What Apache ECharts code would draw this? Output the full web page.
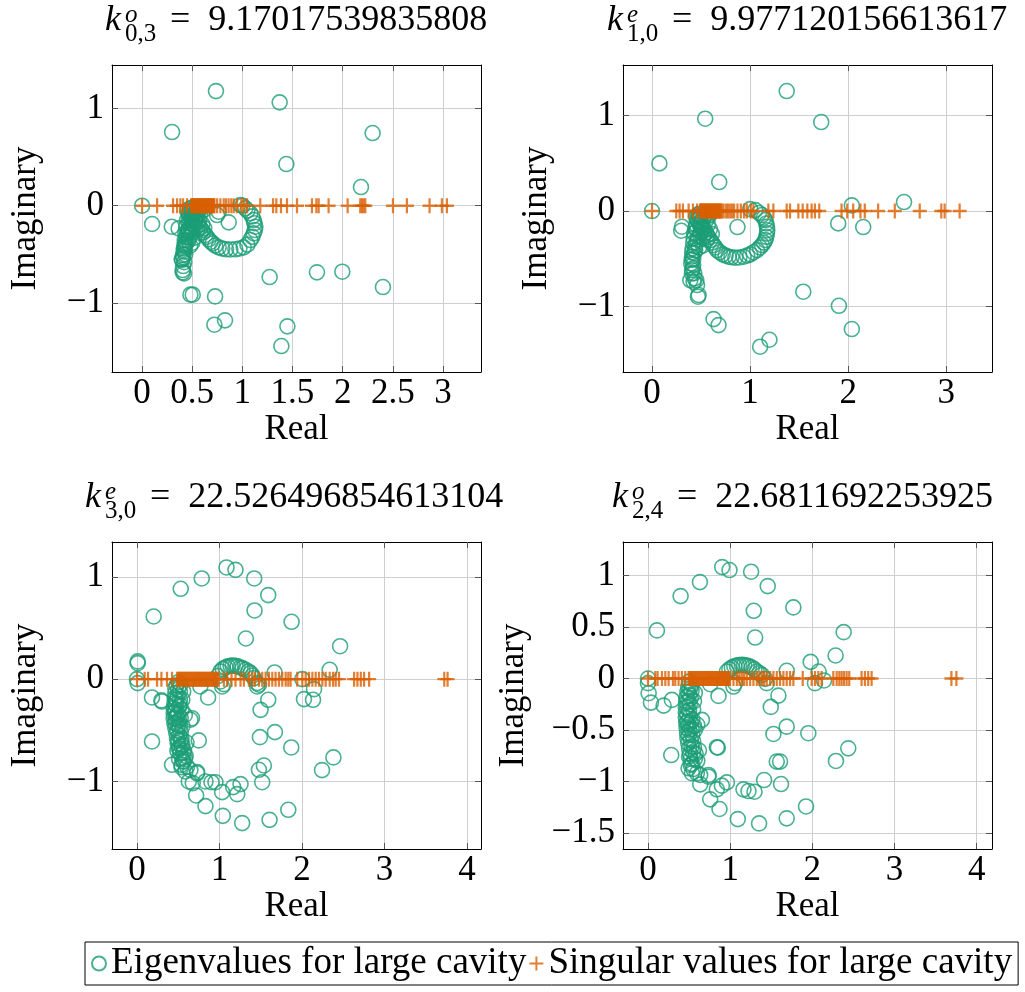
<!DOCTYPE html>
<html><head><meta charset="utf-8">
<script src="https://cdn.jsdelivr.net/npm/echarts@6/dist/echarts.min.js"></script>
<style>html,body{margin:0;padding:0;background:#fff}#c{width:1025px;height:992px}</style>
</head><body><div id="c"></div>
<script>
// ---------- data ----------
const seriesNames = ['Eigenvalues for large cavity', 'Singular values for large cavity'];

const titles1 = {sup: 'o', sub: '0,3', value: '9.17017539835808'};
const titles2 = {sup: 'e', sub: '1,0', value: '9.977120156613617'};
const titles3 = {sup: 'e', sub: '3,0', value: '22.526496854613104'};
const titles4 = {sup: 'o', sub: '2,4', value: '22.6811692253925'};

const xTicks1 = [0, 0.5, 1, 1.5, 2, 2.5, 3];
const yTicks1 = [-1, 0, 1];
const xTicks2 = [0, 1, 2, 3];
const yTicks2 = [-1, 0, 1];
const xTicks3 = [0, 1, 2, 3, 4];
const yTicks3 = [-1, 0, 1];
const xTicks4 = [0, 1, 2, 3, 4];
const yTicks4 = [-1.5, -1, -0.5, 0, 0.5, 1];

const eig1 = [
 [0.737,1.178],[1.372,1.062],[0.299,0.757],[2.299,0.747],[1.439,0.428],[2.183,0.192],[0,0],[0.1,-0.188],
 [0.296,-0.216],[0.365,-0.233],[0.864,-0.171],[0.748,-0.096],[0.764,-0.062],[1.272,-0.733],[1.744,-0.685],[1.997,-0.678],
 [2.402,-0.836],[0.482,-0.914],[0.505,-0.914],[0.728,-0.932],[0.721,-1.223],[0.827,-1.178],[1.449,-1.24],[1.389,-1.442],
 [0.98,0.007],[1.0,0.0],[1.03,-0.027],[1.08,-0.078],[1.113,-0.147],[1.13,-0.216],[1.113,-0.284],[1.08,-0.353],
 [1.013,-0.428],[0.93,-0.448],[0.837,-0.448],[0.764,-0.428],[0.704,-0.387],[0.664,-0.346],[0.631,-0.301],[0.598,-0.25],
 [0.565,-0.198],[0.531,-0.147],[1.05,-0.05],[1.1,-0.11],[1.12,-0.18],[1.125,-0.25],[1.1,-0.32],[1.05,-0.4],
 [0.97,-0.44],[0.88,-0.45],[0.8,-0.44],[0.73,-0.41],[0.685,-0.37],[0.645,-0.32],[0.61,-0.275],[0.58,-0.225],
 [0.55,-0.17],[0.52,-0.12],[0.51,-0.08],[0.5,-0.05],
 [0.475,-0.03],[0.465,-0.078],[0.449,-0.147],[0.439,-0.216],[0.432,-0.284],[0.425,-0.353],[0.422,-0.404],[0.415,-0.455],
 [0.408,-0.507],[0.399,-0.558],[0.395,-0.548],[0.405,-0.661],[0.419,-0.695],[0.405,-0.685],[0.42,-0.44],[0.43,-0.39],
 [0.44,-0.32],[0.455,-0.25],[0.47,-0.18],[0.485,-0.11],[0.49,-0.06],[0.5,-0.02],
 [0.52,-0.03],[0.54,-0.06],[0.5,-0.1],[0.53,-0.1],[0.47,-0.13],[0.5,-0.16],[0.52,-0.2],[0.48,-0.22],
 [0.46,-0.27],[0.5,-0.27],[0.55,-0.24],[0.48,-0.3],[0.46,-0.36],[0.56,-0.05],[0.6,-0.02],[0.58,-0.08],[0.62,-0.04],
 [0.45,-0.05],[0.47,-0.08],[0.49,-0.14],[0.51,-0.19],[0.53,-0.23],[0.5,-0.24],[0.47,-0.25],[0.45,-0.29],
 [0.47,-0.33],[0.44,-0.38],[0.43,-0.42],[0.42,-0.47],[0.43,-0.5],[0.41,-0.53],[0.42,-0.58],[0.41,-0.62],
 [0.55,-0.12],[0.57,-0.15],[0.6,-0.19],[0.62,-0.23],[0.58,-0.28],[0.52,-0.33],[0.5,-0.38],[0.48,-0.41]
];
const sv1 = [
 0, 0.15, 0.309, 0.349, 0.382, 0.409, 0.449,
 0.49, 0.497, 0.505, 0.512, 0.52, 0.527, 0.535, 0.542, 0.55, 0.557, 0.565, 0.572, 0.58, 0.587, 0.595, 0.603,
 0.61, 0.618, 0.625, 0.633, 0.64, 0.648, 0.655, 0.663, 0.67, 0.678, 0.686, 0.693, 0.70, 0.708, 0.715, 0.722,
 0.748, 0.781, 0.814, 0.837, 0.863, 0.89, 0.914, 0.947, 0.99, 1.013, 1.047, 1.179, 1.306, 1.339, 1.385, 1.445,
 1.545, 1.694, 1.738, 1.761, 1.86, 2.05, 2.176, 2.193, 2.209, 2.226, 2.502, 2.641, 2.867, 2.99, 3.04
];

const eig2 = [
 [1.373,1.254],[0.542,0.965],[1.725,0.93],[0.075,0.498],[0.685,0.303],[0,0],[2.037,0.059],[2.569,0.094],
 [1.898,-0.129],[2.153,-0.167],[0.305,-0.164],[0.298,-0.206],[0.871,-0.167],[1.542,-0.843],[1.905,-0.99],[2.037,-1.233],
 [0.627,-1.129],[0.678,-1.192],[1.102,-1.418],[1.197,-1.345],[0.468,-0.895],[0.475,-0.878],[0.451,-0.721],[0.424,-0.739],
 [0.407,-0.652],[0.417,-0.599],
 [1.0,0.02],[1.053,0.01],[1.121,-0.042],[1.155,-0.094],[1.172,-0.164],[1.172,-0.233],[1.155,-0.303],[1.121,-0.355],
 [1.07,-0.408],[1.002,-0.453],[0.934,-0.477],[0.849,-0.488],[0.781,-0.477],[0.72,-0.453],[0.663,-0.408],[0.628,-0.355],
 [0.594,-0.303],[0.561,-0.251],[0.536,-0.199],[1.09,-0.02],[1.14,-0.07],[1.165,-0.13],[1.175,-0.2],[1.165,-0.27],
 [1.14,-0.33],[1.1,-0.38],[1.035,-0.43],[0.97,-0.465],[0.89,-0.485],[0.81,-0.483],[0.75,-0.465],[0.69,-0.43],
 [0.645,-0.38],[0.61,-0.33],[0.575,-0.275],[0.55,-0.225],[0.52,-0.17],[0.5,-0.12],[0.49,-0.07],
 [0.459,-0.094],[0.441,-0.181],[0.424,-0.285],[0.414,-0.39],[0.408,-0.477],[0.4,-0.547],[0.408,-0.617],[0.39,-0.721],
 [0.434,-0.703],[0.459,-0.773],[0.47,-0.04],[0.45,-0.14],[0.43,-0.23],[0.42,-0.33],[0.41,-0.43],[0.405,-0.51],
 [0.42,-0.56],[0.43,-0.65],
 [0.48,-0.03],[0.5,-0.05],[0.52,-0.08],[0.48,-0.12],[0.5,-0.16],[0.46,-0.2],[0.5,-0.22],[0.47,-0.27],
 [0.45,-0.33],[0.52,-0.28],[0.55,-0.03],[0.58,-0.05],[0.6,-0.02],
 [0.45,-0.06],[0.47,-0.1],[0.49,-0.15],[0.51,-0.19],[0.53,-0.24],[0.49,-0.25],[0.46,-0.3],[0.44,-0.37],
 [0.43,-0.44],[0.42,-0.5],[0.44,-0.41],[0.55,-0.1],[0.57,-0.14],[0.59,-0.19],[0.61,-0.24],[0.56,-0.3],
 [0.52,-0.36],[0.48,-0.38]
];
const sv2 = [
 0, 0.247, 0.281, 0.315, 0.373, 0.417, 0.459,
 0.49, 0.497, 0.505, 0.512, 0.52, 0.527, 0.535, 0.542, 0.55, 0.557, 0.565, 0.572, 0.58, 0.587, 0.595, 0.603,
 0.61, 0.618, 0.625, 0.633, 0.64, 0.648, 0.655, 0.663, 0.67, 0.678, 0.686, 0.693, 0.70,
 0.712, 0.73, 0.756, 0.775, 0.797, 0.817, 0.837, 0.871, 0.905, 0.939, 0.966, 1.007, 1.034, 1.186, 1.237, 1.373,
 1.407, 1.492, 1.536, 1.583, 1.627, 1.661, 1.705, 1.932, 1.99, 2.051, 2.125, 2.169, 2.305, 2.475, 2.729, 2.949,
 2.983, 3.136
];

const eig3 = [
 [1.085,1.091],[1.194,1.068],[0.785,0.984],[1.421,0.984],[0.53,0.883],[1.591,0.821],[1.425,0.671],[0.202,0.612],
 [1.874,0.56],[1.32,0.397],[2.462,0.322],[0.008,0.173],[0.008,0.156],[2.336,0.091],[1.668,0.065],[0,0],[0.008,-0.039],
 [1.012,0.075],[1.073,0.114],[1.134,0.13],[1.194,0.13],[1.255,0.114],[1.316,0.091],[1.377,0.059],[1.417,0.01],
 [1.457,-0.039],[1.457,-0.072],[1.032,-0.072],[1.053,-0.049],[1.012,-0.023],[0.98,0.03],[1.04,0.1],[1.1,0.125],
 [1.16,0.132],[1.22,0.125],[1.28,0.105],[1.35,0.075],[1.4,0.035],[1.478,-0.055],
 [0.182,-0.179],[0.296,-0.208],[0.862,-0.179],[1.591,-0.202],[1.498,-0.3],[2.004,0],[2.024,-0.195],[2.134,-0.202],
 [2.146,-0.098],[0.648,-0.397],[0.182,-0.609],[0.749,-0.599],[1.49,-0.567],[1.672,-0.518],[1.87,-0.668],[2.381,-0.765],
 [2.243,-0.889],[0.425,-0.837],[1.478,-0.886],[1.538,-0.844],[1.518,-1.007],[0.83,-1.0],[0.903,-1.007],[0.951,-1.007],
 [1.032,-1.104],[1.166,-1.055],[1.255,-1.026],[1.215,-1.124],[0.717,-1.137],[0.83,-1.241],[1.04,-1.336],[1.275,-1.407],
 [1.607,-1.375],[1.834,-1.277],[0.303,-0.219],[0.667,-0.382],[0.768,-0.072],
 [0.538,-0.837],[0.587,-0.902],[0.628,-1.0],[0.676,-1.016],[0.729,-0.909],
 [0.465,-0.088],[0.465,-0.137],[0.457,-0.186],[0.453,-0.235],[0.445,-0.284],[0.445,-0.333],[0.445,-0.382],[0.453,-0.431],
 [0.465,-0.479],[0.477,-0.528],[0.485,-0.577],[0.493,-0.626],[0.505,-0.675],[0.526,-0.724],[0.546,-0.773],[0.566,-0.806],
 [0.607,-0.855],[0.647,-0.888],[0.728,-0.92],
 [0.53,-0.05],[0.52,-0.12],[0.52,-0.2],[0.51,-0.27],[0.5,-0.34],[0.51,-0.4],[0.52,-0.46],[0.53,-0.52],
 [0.54,-0.58],[0.55,-0.64],[0.57,-0.7],[0.59,-0.75],[0.5,-0.03],[0.48,-0.06],[0.49,-0.16],[0.47,-0.3],
 [0.48,-0.36],[0.49,-0.5],[0.5,-0.6],[0.52,-0.68],[0.56,-0.8],[0.6,-0.62],[0.58,-0.35],[0.47,-0.43],[0.54,-0.3],
 [0.5,-0.1],[0.48,-0.2],[0.47,-0.25],[0.46,-0.32],[0.47,-0.38],[0.5,-0.45],[0.51,-0.55],[0.53,-0.6],
 [0.54,-0.66],[0.56,-0.72],[0.58,-0.78],[0.53,-0.38],[0.55,-0.46],[0.49,-0.7],[0.51,-0.78],[0.54,-0.86],
 [0.55,-0.2],[0.56,-0.12],[0.52,-0.25]
];
const sv3 = [
 0, 0.093, 0.134, 0.243, 0.296, 0.364, 0.425, 0.486,
 0.50, 0.512, 0.525, 0.537, 0.55, 0.562, 0.575, 0.587, 0.60, 0.612, 0.625, 0.637, 0.65, 0.662, 0.675, 0.687,
 0.70, 0.712, 0.725, 0.737, 0.75, 0.762, 0.775, 0.787, 0.80, 0.812, 0.825, 0.837, 0.85, 0.862, 0.875, 0.887,
 0.90, 0.912, 0.925, 0.937, 0.95, 0.962, 0.975, 0.99,
 1.053, 1.093, 1.146, 1.194, 1.255, 1.296, 1.356, 1.397, 1.429, 1.478, 1.518, 1.559, 1.599, 1.64, 1.68, 1.721,
 1.761, 1.802, 1.834, 1.862, 1.943, 2.004, 2.045, 2.085, 2.126, 2.166, 2.206, 2.247, 2.287, 2.336, 2.377, 2.409,
 2.449, 2.632, 2.672, 2.713, 2.753, 2.814, 3.725, 3.765
];

const eig4 = [
 [0.903,1.084],[0.992,1.055],[1.255,1.039],[0.632,0.938],[1.457,0.899],[0.397,0.802],[1.769,0.692],[1.287,0.659],
 [0.109,0.468],[2.381,0.451],[1.304,0.399],[2.283,0.224],[1.98,0.162],[2.077,0.068],[2.142,-0.019],[2.032,-0.045],
 [1.688,0.075],
 [0.96,0.068],[1.02,0.107],[1.081,0.127],[1.142,0.133],[1.202,0.127],[1.263,0.107],[1.324,0.068],[1.385,0.036],
 [1.425,-0.003],[1.445,-0.045],[1.04,-0.078],[1.061,-0.045],[0.99,0.09],[1.05,0.12],[1.11,0.132],[1.17,0.132],
 [1.23,0.118],[1.295,0.09],[1.355,0.052],
 [0,0],[0,-0.045],[0.008,-0.143],[0.036,-0.234],[0.19,-0.263],[0.291,-0.208],[0.757,-0.055],[0.858,-0.169],
 [1.587,-0.166],[1.494,-0.276],[1.688,-0.468],[1.526,-0.539],[1.951,-0.532],[0.283,-0.744],[0.85,-0.672],[2.437,-0.679],
 [2.287,-0.802],[1.567,-0.808],[1.607,-0.808],[1.413,-0.987],[1.619,-1.026],[0.96,-1.01],[0.899,-1.042],[0.838,-1.078],
 [0.757,-1.175],[0.87,-1.269],[1.162,-1.078],[1.223,-1.094],[1.296,-1.101],[1.093,-1.367],[1.352,-1.409],[1.688,-1.36],
 [1.923,-1.244],[0.636,-1.029],[0.737,-0.938],[0.656,-0.402],[0.838,-0.668],
 [0.5,-0.03],[0.49,-0.08],[0.48,-0.13],[0.47,-0.18],[0.465,-0.23],[0.46,-0.28],[0.46,-0.33],[0.46,-0.38],
 [0.465,-0.43],[0.47,-0.48],[0.475,-0.53],[0.48,-0.58],[0.49,-0.63],[0.5,-0.68],[0.51,-0.73],[0.52,-0.78],
 [0.534,-0.83],[0.55,-0.88],[0.534,-0.921],[0.635,-0.938],[0.736,-0.954],[0.494,-0.873],[0.595,-0.922],
 [0.53,-0.06],[0.53,-0.12],[0.52,-0.19],[0.51,-0.25],[0.5,-0.31],[0.51,-0.37],[0.52,-0.43],[0.53,-0.49],
 [0.54,-0.55],[0.55,-0.61],[0.56,-0.67],[0.58,-0.73],[0.6,-0.8],[0.48,-0.35],[0.49,-0.45],[0.5,-0.55],
 [0.55,-0.3],[0.57,-0.5],[0.6,-0.45],[0.62,-0.7],
 [0.51,-0.1],[0.5,-0.16],[0.49,-0.22],[0.48,-0.28],[0.48,-0.42],[0.5,-0.5],[0.52,-0.6],[0.53,-0.66],
 [0.55,-0.72],[0.57,-0.78],[0.54,-0.4],[0.56,-0.46],[0.5,-0.76],[0.52,-0.84],[0.56,-0.22],[0.57,-0.14]
];
const sv4 = [
 0, 0.089, 0.117, 0.17, 0.211, 0.251, 0.304, 0.332, 0.372, 0.413, 0.453,
 0.494, 0.506, 0.518, 0.53, 0.542, 0.554, 0.566, 0.578, 0.59, 0.602, 0.614, 0.626, 0.638, 0.65, 0.662, 0.674,
 0.686, 0.698, 0.71, 0.722, 0.734, 0.746, 0.758, 0.77, 0.782, 0.794, 0.806, 0.818, 0.83, 0.842, 0.854, 0.866,
 0.878, 0.89, 0.902, 0.914, 0.926, 0.938, 0.95, 0.962, 0.974, 0.986, 0.998,
 1.04, 1.081, 1.113, 1.142, 1.17, 1.202, 1.243, 1.283, 1.324, 1.356, 1.385, 1.413, 1.445, 1.486, 1.526, 1.567,
 1.607, 1.648, 1.688, 1.729, 1.769, 1.883, 1.992, 2.032, 2.073, 2.113, 2.255, 2.296, 2.328, 2.356, 2.385, 2.417,
 2.449, 2.599, 2.64, 2.68, 2.721, 3.692, 3.753
];

// ---------- layout & styling ----------
const FONT = '"Liberation Serif", "Times New Roman", serif';
const GREEN = '#1b9e77', ORANGE = '#d95f02';
const FS = 35;

const panels = [
 {eig: eig1, sv: sv1, xt: xTicks1, yt: yTicks1, t: titles1, grid: {left: 112, top: 65, width: 369, height: 307},
  x: [-0.3, 3.38], y: [-1.709, 1.446], yGap: 69, tx: 105, tb: 32},
 {eig: eig2, sv: sv2, xt: xTicks2, yt: yTicks2, t: titles2, grid: {left: 623, top: 65, width: 369, height: 307},
  x: [-0.296, 3.466], y: [-1.682, 1.526], yGap: 69, tx: 607, tb: 32},
 {eig: eig3, sv: sv3, xt: xTicks3, yt: yTicks3, t: titles3, grid: {left: 112, top: 542, width: 369, height: 307},
  x: [-0.303, 4.17], y: [-1.66, 1.34], yGap: 69, tx: 85, tb: 509},
 {eig: eig4, sv: sv4, xt: xTicks4, yt: yTicks4, t: titles4, grid: {left: 623, top: 542, width: 369, height: 307},
  x: [-0.304, 4.186], y: [-1.658, 1.328], yGap: 92, tx: 612, tb: 509}
];

const fmt = v => String(v).replace('-', '\u2212');
const tickStyle = {color: '#555', width: 1};

const grid = [], xAxis = [], yAxis = [], series = [], graphic = [];
panels.forEach((p, i) => {
  grid.push(Object.assign({containLabel: false}, p.grid));
  xAxis.push({
    type: 'value', gridIndex: i, position: 'bottom', min: p.x[0], max: p.x[1],
    axisLine: {onZero: false, lineStyle: {color: '#000', width: 1}},
    axisTick: {inside: true, length: 6, customValues: p.xt, lineStyle: tickStyle},
    axisLabel: {customValues: p.xt, formatter: fmt, fontFamily: FONT, fontSize: FS, color: '#000', margin: 4},
    splitLine: {show: true, lineStyle: {color: '#cfcfcf', width: 1}},
    name: 'Real', nameLocation: 'middle', nameGap: 36,
    nameTextStyle: {fontFamily: FONT, fontSize: FS, color: '#000'}
  });
  xAxis.push({
    type: 'value', gridIndex: i, position: 'top', min: p.x[0], max: p.x[1],
    axisLine: {onZero: false, lineStyle: {color: '#000', width: 1}},
    axisTick: {inside: true, length: 6, customValues: p.xt, lineStyle: tickStyle},
    axisLabel: {show: false}, splitLine: {show: false}
  });
  yAxis.push({
    type: 'value', gridIndex: i, position: 'left', min: p.y[0], max: p.y[1],
    axisLine: {onZero: false, lineStyle: {color: '#000', width: 1}},
    axisTick: {inside: true, length: 6, customValues: p.yt, lineStyle: tickStyle},
    axisLabel: {customValues: p.yt, formatter: fmt, fontFamily: FONT, fontSize: FS, color: '#000', margin: 8},
    splitLine: {show: true, lineStyle: {color: '#cfcfcf', width: 1}},
    name: 'Imaginary', nameLocation: 'middle', nameGap: p.yGap, nameRotate: 90,
    nameTextStyle: {fontFamily: FONT, fontSize: FS, color: '#000'}
  });
  yAxis.push({
    type: 'value', gridIndex: i, position: 'right', min: p.y[0], max: p.y[1],
    axisLine: {onZero: false, lineStyle: {color: '#000', width: 1}},
    axisTick: {inside: true, length: 6, customValues: p.yt, lineStyle: tickStyle},
    axisLabel: {show: false}, splitLine: {show: false}
  });
  series.push({
    type: 'scatter', name: seriesNames[0], xAxisIndex: 2 * i, yAxisIndex: 2 * i,
    data: p.eig, symbol: 'circle', symbolSize: 15, z: 2,
    itemStyle: {color: 'rgba(255,255,255,0)', borderColor: GREEN, borderWidth: 1.6}
  });
  series.push({
    type: 'scatter', name: seriesNames[1], xAxisIndex: 2 * i, yAxisIndex: 2 * i,
    data: p.sv.map(v => [v, 0]), symbol: 'path://M0,6L12,6M6,0L6,12', symbolSize: [14, 15], z: 3,
    itemStyle: {color: ORANGE, borderColor: ORANGE, borderWidth: 2.3}
  });
  const x0 = p.tx, b = p.tb;
  graphic.push(
    {type: 'text', x: x0, y: b - 11, style: {text: 'k', font: 'italic 36px ' + FONT, fill: '#000', align: 'left', verticalAlign: 'middle'}},
    {type: 'text', x: x0 + 20, y: b - 17, style: {text: p.t.sup, font: 'italic 25px ' + FONT, fill: '#000', align: 'left', verticalAlign: 'middle'}},
    {type: 'text', x: x0 + 20, y: b + 2, style: {text: p.t.sub, font: '25px ' + FONT, fill: '#000', align: 'left', verticalAlign: 'middle'}},
    {type: 'text', x: x0 + 65, y: b - 11, style: {text: '=\u2002' + p.t.value, font: '36px ' + FONT, fill: '#000', align: 'left', verticalAlign: 'middle'}}
  );
});

const chart = echarts.init(document.getElementById('c'), null, {renderer: 'canvas'});
chart.setOption({
  animation: false,
  backgroundColor: '#fff',
  grid, xAxis, yAxis, series, graphic,
  legend: {
    data: seriesNames, left: 85, top: 942, orient: 'horizontal',
    itemGap: 2, itemWidth: 14, itemHeight: 14, padding: [3, 6, 3, 6],
    borderColor: '#000', borderWidth: 1, selectedMode: false,
    textStyle: {fontFamily: FONT, fontSize: 37, color: '#000'}
  }
});
</script></body></html>
